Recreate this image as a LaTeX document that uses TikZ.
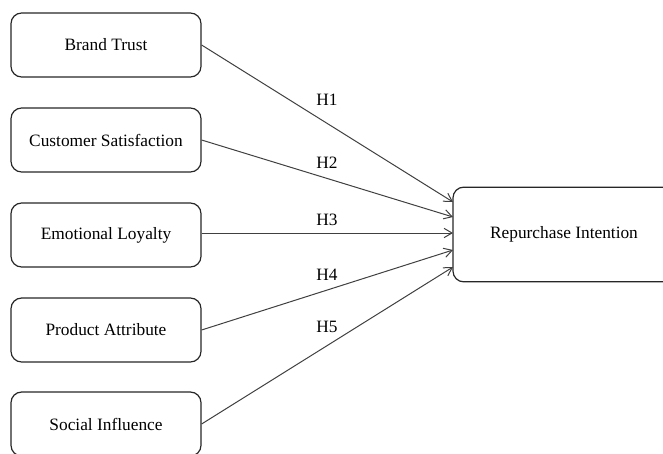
\documentclass[tikz,border=0pt]{standalone}
\usepackage{fontspec}
\setmainfont{Liberation Serif}
\usetikzlibrary{arrows.meta}
\begin{document}
\begin{tikzpicture}[x=0.75pt, y=-0.75pt]
      \tikzset{every node/.style={font=\fontsize{13}{15}\selectfont},
        factor/.style={draw=black!85, line width=0.9pt, rounded corners=8pt,
          minimum width=142.5pt, minimum height=48pt, inner sep=0pt},
        path/.style={draw=black!75, line width=0.75pt,
          -{Straight Barb[length=6pt,width=7pt]}}}
      \path[use as bounding box] (0,0) rectangle (663,453);

      \node[factor] (BT) at (106,45) {Brand Trust};
      \node[factor] (CS) at (106,140) {Customer Satisfaction};
      \node[factor] (EL) at (106,235) {Emotional Loyalty};
      \node[factor] (PA) at (106,330) {Product Attribute};
      \node[factor] (SI) at (106,424) {Social Influence};
      \node[factor, minimum width=166.5pt, minimum height=71pt] (RI) at (564,234.5) {Repurchase Intention};

      \coordinate (t1) at (453,202);
      \coordinate (t2) at (453,217);
      \coordinate (t3) at (453,233);
      \coordinate (t4) at (453,250);
      \coordinate (t5) at (453,267);

      \draw[path] (BT.east) -- (t1);
      \draw[path] (CS.east) -- (t2);
      \draw[path] (EL.east |- t3) -- (t3);
      \draw[path] (PA.east) -- (t4);
      \draw[path] (SI.east) -- (t5);

      \node at (327,100) {H1};
      \node at (327,163) {H2};
      \node at (327,220) {H3};
      \node at (327,275) {H4};
      \node at (327,327) {H5};
    \end{tikzpicture}
\end{document}
